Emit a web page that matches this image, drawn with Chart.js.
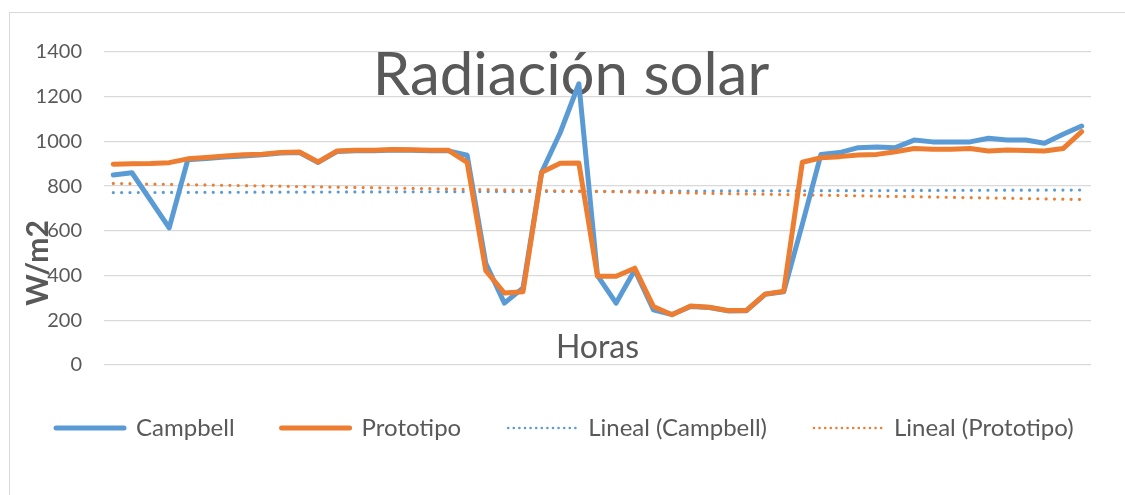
<!DOCTYPE html>
<html>
<head>
<meta charset="utf-8">
<title>Radiación solar</title>
<script src="https://cdn.jsdelivr.net/npm/chart.js@4.4.1/dist/chart.umd.min.js"></script>
<style>
  body { margin: 0; background: #fff; }
  canvas { display: block; }
</style>
</head>
<body>
<canvas id="myChart" width="1125" height="495"></canvas>
<script>
const horas = [1, 2, 3, 4, 5, 6, 7, 8, 9, 10, 11, 12, 13, 14, 15, 16, 17, 18, 19, 20,
  21, 22, 23, 24, 25, 26, 27, 28, 29, 30, 31, 32, 33, 34, 35, 36, 37, 38, 39, 40,
  41, 42, 43, 44, 45, 46, 47, 48, 49, 50, 51, 52, 53];

const campbell = [850, 860, 737, 613, 918, 924, 930, 935, 940, 948, 950, 906, 955, 958, 958,
  962, 960, 958, 958, 938, 455, 277, 345, 862, 1040, 1258, 400, 277, 425, 247, 226, 262,
  257, 242, 243, 316, 327, 630, 942, 950, 972, 975, 972, 1006, 998, 998, 998, 1014, 1006,
  1006, 992, 1032, 1069];

const prototipo = [898, 900, 901, 905, 922, 928, 935, 940, 943, 951, 953, 908, 957, 960, 960,
  964, 963, 960, 960, 906, 422, 322, 328, 862, 902, 903, 397, 397, 433, 262, 225, 264,
  258, 244, 244, 317, 330, 907, 927, 932, 939, 942, 954, 968, 965, 965, 968, 957, 962,
  959, 957, 968, 1044];

const yTicks = [0, 200, 400, 600, 800, 1000, 1200, 1400];

const BLUE = "#5B9BD5";
const ORANGE = "#ED7D31";
const TEXT = "#595959";
const FONT = "Lato";

// linea de tendencia (minimos cuadrados), como la "Lineal" de Excel
function linearTrend(values) {
  const n = values.length;
  const xMean = (n - 1) / 2;
  const yMean = values.reduce((a, b) => a + b, 0) / n;
  let num = 0;
  let den = 0;
  values.forEach((v, i) => {
    num += (i - xMean) * (v - yMean);
    den += (i - xMean) ** 2;
  });
  const slope = num / den;
  return values.map((_, i) => yMean + slope * (i - xMean));
}

// titulo, "Horas", "W/m2" y el borde del grafico
const overlayText = {
  id: "overlayText",
  beforeDraw(chart) {
    const ctx = chart.ctx;
    ctx.save();
    ctx.strokeStyle = "#d9d9d9";
    ctx.lineWidth = 1;
    ctx.strokeRect(9.5, 12.5, 1300, 600);
    ctx.restore();
  },
  beforeDatasetsDraw(chart) {
    const { ctx, chartArea } = chart;
    ctx.save();
    ctx.fillStyle = TEXT;
    ctx.textAlign = "center";
    ctx.textBaseline = "alphabetic";
    ctx.font = `60px ${FONT}`;
    ctx.fillText("Radiación solar", 571, 95);
    ctx.font = `32px ${FONT}`;
    ctx.fillText("Horas", (chartArea.left + chartArea.right) / 2, 358);
    ctx.translate(38, 263);
    ctx.rotate(-Math.PI / 2);
    ctx.textBaseline = "middle";
    ctx.font = `bold 30px ${FONT}`;
    ctx.fillText("W/m2", 0, 0);
    ctx.restore();
  },
};

const datasets = [
  {
    label: "Campbell",
    data: campbell,
    borderColor: BLUE,
    backgroundColor: BLUE,
    borderWidth: 5,
    order: 1,
  },
  {
    label: "Prototipo",
    data: prototipo,
    borderColor: ORANGE,
    backgroundColor: ORANGE,
    borderWidth: 5,
    order: 0,
  },
  {
    label: "Lineal (Campbell)",
    data: linearTrend(campbell),
    borderColor: BLUE,
    backgroundColor: BLUE,
    borderWidth: 3.2,
    borderDash: [0, 8.33],
    order: 3,
  },
  {
    label: "Lineal (Prototipo)",
    data: linearTrend(prototipo),
    borderColor: ORANGE,
    backgroundColor: ORANGE,
    borderWidth: 3.2,
    borderDash: [0, 8.33],
    order: 2,
  },
];

function legendLabels(chart) {
  const items = Chart.defaults.plugins.legend.labels.generateLabels(chart);
  return items.map((item) => {
    const ds = chart.data.datasets[item.datasetIndex];
    item.lineCap = "round";
    if (ds.borderDash) {
      item.lineDash = [0, 5.6];
      item.lineWidth = 2.6;
    } else {
      item.lineWidth = 5;
    }
    return item;
  });
}

const config = {
  type: "line",
  data: { labels: horas, datasets },
  options: {
    responsive: false,
    animation: false,
    elements: {
      point: { radius: 0, hoverRadius: 0 },
      line: { tension: 0, borderCapStyle: "round", borderJoinStyle: "round" },
    },
    layout: { padding: { left: 9, top: 52, right: 0, bottom: 45 } },
    scales: {
      x: {
        offset: true,
        grid: { display: false },
        border: { display: false },
        ticks: { display: false },
        afterFit: (scale) => { scale.height = 4; },
      },
      y: {
        min: yTicks[0],
        max: yTicks[yTicks.length - 1],
        afterBuildTicks: (scale) => { scale.ticks = yTicks.map((v) => ({ value: v })); },
        grid: { color: "#d9d9d9", lineWidth: 1.3, drawTicks: false },
        border: { display: false },
        ticks: {
          color: TEXT,
          font: { family: FONT, size: 20 },
          padding: 22,
          callback: (value) => String(value),
        },
        afterFit: (scale) => { scale.width = 95; },
      },
      // espacio vacio a la derecha del area de trazado
      margenDerecho: {
        position: "right",
        min: yTicks[0],
        max: yTicks[yTicks.length - 1],
        grid: { display: false },
        border: { display: false },
        ticks: { display: false },
        afterFit: (scale) => { scale.width = 34; },
      },
    },
    plugins: {
      legend: {
        position: "bottom",
        align: "start",
        labels: {
          usePointStyle: true,
          pointStyle: "line",
          pointStyleWidth: 68,
          padding: 47,
          color: TEXT,
          font: { family: FONT, size: 24 },
          generateLabels: legendLabels,
          sort: (a, b) => a.datasetIndex - b.datasetIndex,
        },
      },
      tooltip: { enabled: false },
    },
  },
  plugins: [overlayText],
};

new Chart(document.getElementById("myChart"), config);
</script>
</body>
</html>
